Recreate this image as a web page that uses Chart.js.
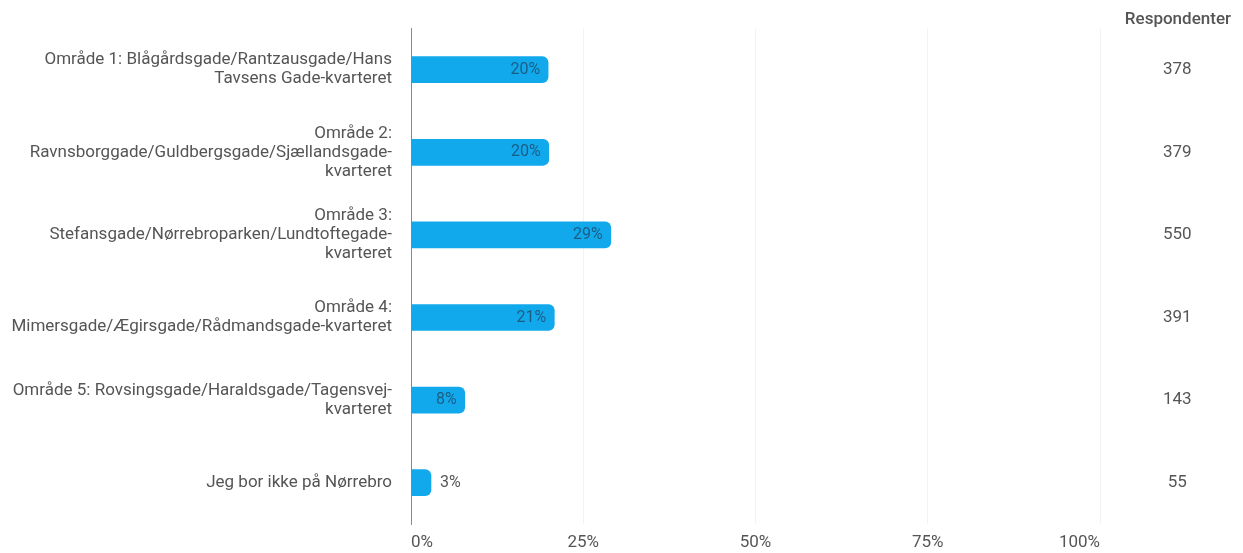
<!DOCTYPE html>
<html>
<head>
<meta charset="utf-8">
<script src="https://cdn.jsdelivr.net/npm/chart.js@4"></script>
<style>
  html, body { margin: 0; padding: 0; background: #fff; }
  #wrap { width: 1243px; height: 553px; }
</style>
</head>
<body>
<div id="wrap"><canvas id="areaChart"></canvas></div>
<script>
const areaLabels = [
  ["Område 1: Blågårdsgade/Rantzausgade/Hans", "Tavsens Gade-kvarteret"],
  ["Område 2:", "Ravnsborggade/Guldbergsgade/Sjællandsgade-", "kvarteret"],
  ["Område 3:", "Stefansgade/Nørrebroparken/Lundtoftegade-", "kvarteret"],
  ["Område 4:", "Mimersgade/Ægirsgade/Rådmandsgade-kvarteret"],
  ["Område 5: Rovsingsgade/Haraldsgade/Tagensvej-", "kvarteret"],
  "Jeg bor ikke på Nørrebro"
];
const sharePct = [19.9, 20.0, 29.0, 20.8, 7.8, 2.9];
const respondents = [378, 379, 550, 391, 143, 55];
const xTicks = [0, 25, 50, 75, 100];

const fontFamily = "Roboto, 'Noto Sans', sans-serif";
const textGray = '#555';

// percentage label at the end of each bar (inside, or outside for tiny bars)
const barValueLabels = {
  id: 'barValueLabels',
  afterDatasetsDraw(chart) {
    const ctx = chart.ctx;
    const meta = chart.getDatasetMeta(0);
    ctx.save();
    ctx.font = '16px ' + fontFamily;
    ctx.textBaseline = 'middle';
    meta.data.forEach((bar, i) => {
      const txt = Math.round(sharePct[i]) + '%';
      if (sharePct[i] < 5) {
        ctx.fillStyle = textGray;
        ctx.textAlign = 'left';
        ctx.fillText(txt, bar.x + 9, bar.y);
      } else {
        ctx.fillStyle = 'rgba(30,60,85,0.7)';
        ctx.textAlign = 'right';
        ctx.fillText(txt, bar.x - 8, bar.y);
      }
    });
    ctx.restore();
  }
};

// keep the category axes from reserving extra room for tall multi-line labels
const noEdgePadding = (scale) => {
  scale.paddingTop = 0;
  scale.paddingBottom = 0;
};

new Chart(document.getElementById('areaChart'), {
  type: 'bar',
  data: {
    labels: areaLabels,
    datasets: [{
      data: sharePct,
      backgroundColor: '#12a9ec',
      borderRadius: 6,
      borderSkipped: 'start',
      barThickness: 26
    }]
  },
  options: {
    indexAxis: 'y',
    responsive: true,
    maintainAspectRatio: false,
    animation: false,
    layout: { padding: { left: 0, right: 12, top: 0, bottom: 0 } },
    plugins: {
      legend: { display: false },
      tooltip: { enabled: false },
      title: {
        display: true,
        text: 'Respondenter',
        align: 'end',
        color: textGray,
        font: { family: fontFamily, size: 17, weight: '500', lineHeight: 1.2 },
        padding: { top: 10, bottom: -2 }
      }
    },
    scales: {
      x: {
        min: 0,
        max: 100,
        afterBuildTicks: (scale) => { scale.ticks = xTicks.map(v => ({ value: v })); },
        afterFit: (scale) => { scale.height = 29; },
        grid: { color: '#f3f3f3', drawTicks: false },
        border: { display: false },
        ticks: {
          align: 'inner',
          padding: 9,
          color: textGray,
          font: { family: fontFamily, size: 17 },
          callback: (v) => v + '%'
        }
      },
      y: {
        afterFit: (scale) => { scale.width = 411; noEdgePadding(scale); },
        grid: { display: false },
        border: { display: true, color: '#8a8a8a', width: 1 },
        ticks: {
          padding: 11,
          color: textGray,
          font: { family: fontFamily, size: 17, lineHeight: 1.12 }
        }
      },
      y2: {
        type: 'category',
        position: 'right',
        labels: respondents.map(String),
        offset: true,
        afterFit: (scale) => { scale.width = 131; noEdgePadding(scale); },
        grid: { display: false, drawTicks: false },
        border: { display: false },
        ticks: {
          crossAlign: 'center',
          padding: 63,
          color: textGray,
          font: { family: fontFamily, size: 17 }
        }
      }
    }
  },
  plugins: [barValueLabels]
});
</script>
</body>
</html>
